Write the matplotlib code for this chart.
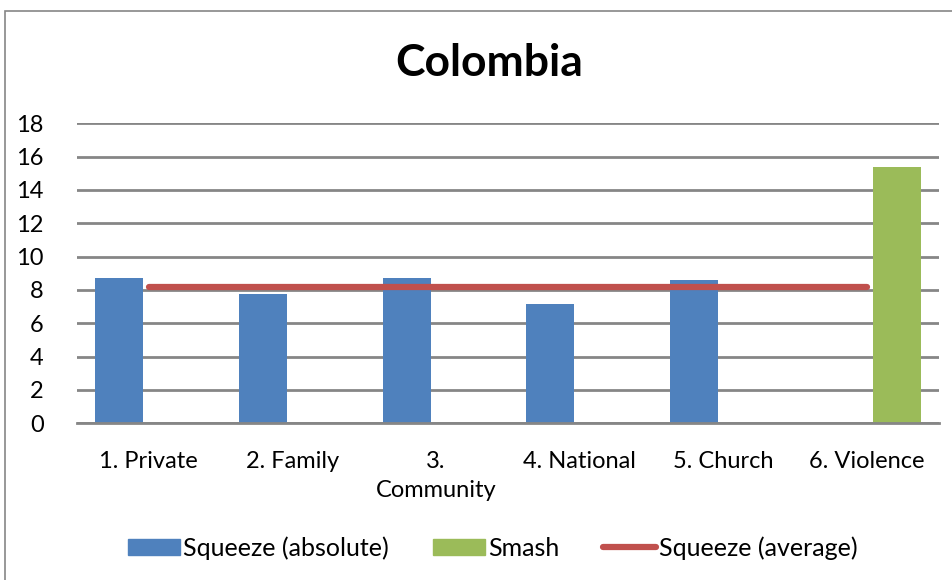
import numpy as np
import matplotlib.pyplot as plt
from matplotlib.patches import Rectangle
from matplotlib.lines import Line2D

plt.rcParams['font.family'] = ['Lato', 'DejaVu Sans']

categories = ["1. Private", "2. Family", "3.\nCommunity", "4. National", "5. Church", "6. Violence"]
squeeze_abs = [8.7, 7.75, 8.7, 7.15, 8.6, np.nan]
smash = [np.nan, np.nan, np.nan, np.nan, np.nan, 15.4]
squeeze_avg = [8.2, 8.2, 8.2, 8.2, 8.2, 8.2]

blue = '#4F81BD'
green = '#9BBB59'
red = '#C0504D'

fig = plt.figure(figsize=(9.53, 5.8), dpi=100)
ax = fig.add_axes([77/953, 1-423.3/580, (939-77)/953, 300/580])

x = np.arange(len(categories))
w = 0.334
ax.bar(x - 0.205, squeeze_abs, w, color=blue, zorder=2)
ax.bar(x + 0.205, smash, w, color=green, zorder=2)
ax.plot(x, squeeze_avg, color=red, lw=4.5, solid_capstyle='round', zorder=3)

ax.set_xlim(-0.5, len(categories) - 0.5)
ax.set_ylim(0, 18)
ax.set_yticks(range(0, 19, 2))
ax.set_xticks(x)
ax.set_xticklabels(categories, fontsize=17, linespacing=1.45)
ax.tick_params(axis='y', labelsize=17, length=0, pad=24)
ax.tick_params(axis='x', length=0, pad=20)
for lab in ax.get_xticklabels():
    lab.set_verticalalignment('top')
ax.grid(axis='y', color='#868686', lw=2, zorder=0)
for s in ['top', 'right', 'left']:
    ax.spines[s].set_visible(False)
ax.spines['bottom'].set_color('#868686')
ax.spines['bottom'].set_linewidth(2)

fig.text(0.513, 1-63/580, "Colombia", ha='center', va='center', fontsize=32, fontweight='bold')

# chart border
fig.patches.append(Rectangle((5/953, -0.1), 1.2, 1-11/580+0.1, transform=fig.transFigure,
                             fill=False, edgecolor='#868686', lw=1.2))

handles = [Rectangle((0, 0), 1, 1, color=blue),
           Rectangle((0, 0), 1, 1, color=green),
           Line2D([0], [0], color=red, lw=4.5, solid_capstyle='round')]
fig.legend(handles, ["Squeeze (absolute)", "Smash", "Squeeze (average)"],
           loc='center', bbox_to_anchor=(0.517, 1-548/580), ncol=3, frameon=False,
           fontsize=18, handlelength=2.1, handleheight=0.65, handletextpad=0.12,
           columnspacing=1.75)

fig.savefig('out.png', dpi=100)
